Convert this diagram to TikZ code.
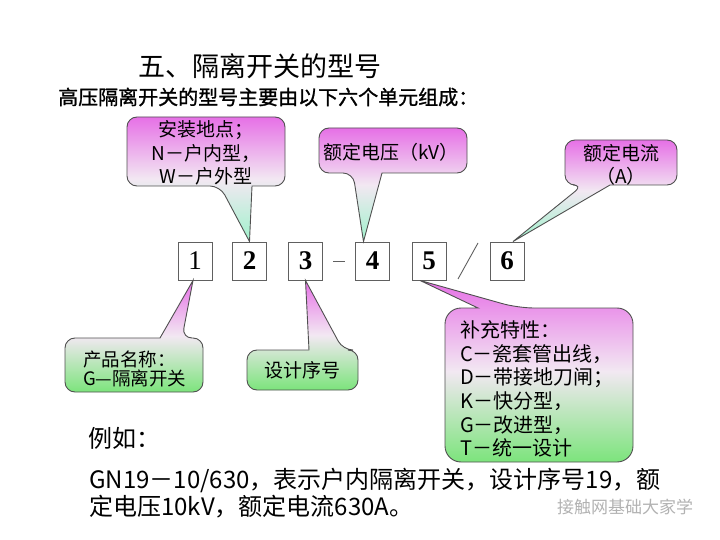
\documentclass[tikz,border=0pt]{standalone}
\usepackage{fontspec}
\setmainfont{Liberation Serif}
\newfontfamily\cjk{Noto Sans CJK SC}
\newfontfamily\cjkfb[FakeBold=1.2]{Noto Sans CJK SC}
\definecolor{mag}{HTML}{E670E6}
\definecolor{midc}{HTML}{F2E8F2}
\definecolor{mint}{HTML}{A0F2CC}
\definecolor{grn}{HTML}{7CE47C}
\definecolor{edgec}{HTML}{505050}
\definecolor{boxc}{HTML}{606060}
\begin{document}
\begin{tikzpicture}[x=1pt,y=-1pt,
  upcall/.style={draw=edgec, line width=0.9pt, top color=mag, bottom color=mint, middle color=midc},
  downcall/.style={draw=edgec, line width=0.9pt, top color=mag, bottom color=grn, middle color=midc},
  digit/.style={draw=boxc, fill=white, line width=0.9pt, minimum width=34pt, minimum height=38pt, inner sep=0pt, font=\fontsize{27}{27}\selectfont},
  ctext/.style={font=\cjk\fontsize{19}{23.5}\selectfont, inner sep=0pt, align=center},
  ltext/.style={font=\cjk\fontsize{20}{23.6}\selectfont, inner sep=0pt, align=left},
  body/.style={font=\cjk\fontsize{24}{27}\selectfont, inner sep=0pt, anchor=west},
  markline/.style={draw=boxc, line width=0.9pt}]
\useasboundingbox (0,0) rectangle (720,540);

% title
\node[font=\cjk\fontsize{27}{27}\selectfont, inner sep=0pt] (title) at (260,66) {五、隔离开关的型号};
\node[font=\cjkfb\fontsize{20}{20}\selectfont, inner sep=0pt, anchor=west] (sub) at (58,97) {高压隔离开关的型号主要由以下六个单元组成：};

% digit boxes
\node[digit] (b1) at (195,261) {1};
\node[digit] (b2) at (249.5,261) {\bfseries 2};
\node[digit] (b3) at (305.5,261) {\bfseries 3};
\node[digit] (b4) at (372.5,261) {\bfseries 4};
\node[digit] (b5) at (429,261) {\bfseries 5};
\node[digit] (b6) at (507,261) {\bfseries 6};
\coordinate (d1) at (333,261); \coordinate (d2) at (345,261);
\draw[markline] (d1) -- (d2);
\coordinate (s1) at (458,279); \coordinate (s2) at (478,243);
\draw[markline] (s1) -- (s2);

% callout 1
\path[upcall] (b2.north) -- (252,186) [rounded corners=10pt] -- (285,186) -- (285,117) -- (127,117) -- (127,186) -- (220,186) [sharp corners] -- cycle;
\node[ctext] (t1) at (206,153) {安装地点；\\N－户内型，\\W－户外型};

% callout 2
\path[upcall] ([xshift=-9pt]b4.north) -- (382,173) [rounded corners=10pt] -- (467,173) -- (467,128) -- (319,128) -- (319,173) -- (353,173) [sharp corners] -- cycle;
\node[ctext] (t2) at (391,152) {额定电压（kV）};

% callout 3
\path[upcall] ([xshift=6pt]b6.north) -- (610,185) [rounded corners=10pt] -- (677,185) -- (677,140) -- (565,140) -- (565,185) -- (583,185) [sharp corners] -- cycle;
\node[ctext] (t3) at (621,165) {额定电流\\（A）};

% callout 4
\path[downcall] ([xshift=-2pt]b1.south) -- (160,338) [rounded corners=10pt] -- (65,338) -- (65,392) -- (203,392) -- (203,338) -- (182,338) [sharp corners] -- cycle;
\node[font=\cjk\fontsize{18.5}{19}\selectfont, inner sep=0pt, align=left, anchor=west] (t4) at (83,369) {产品名称：\\G—隔离开关};

% callout 5
\path[downcall] (b3.south) -- (309,350) [rounded corners=10pt] -- (247,350) -- (247,390) -- (358,390) -- (358,350) -- (343,350) [sharp corners] -- cycle;
\node[ctext] (t5) at (302,370) {设计序号};

% callout 6
\path[downcall] ([xshift=-9pt]b5.south) -- (478,308) [rounded corners=16pt] -- (445,308) -- (445,462) -- (633,462) -- (633,308) -- (518,308) [sharp corners] -- cycle;
\node[ltext, anchor=west] (t6) at (460,389) {补充特性：\\C－瓷套管出线，\\D－带接地刀闸；\\K－快分型，\\G－改进型，\\T－统一设计};

% example text
\node[body] (ex) at (88,438) {例如：};
\node[body] (l1) at (89,480) {GN19－10/630，表示户内隔离开关，设计序号19，额};
\node[body] (l2) at (89,507) {定电压10kV，额定电流630A。};
\node[font=\cjk\fontsize{17}{17}\selectfont, text=black!30, inner sep=0pt] (wm) at (625,507) {接触网基础大家学};
\end{tikzpicture}
\end{document}
